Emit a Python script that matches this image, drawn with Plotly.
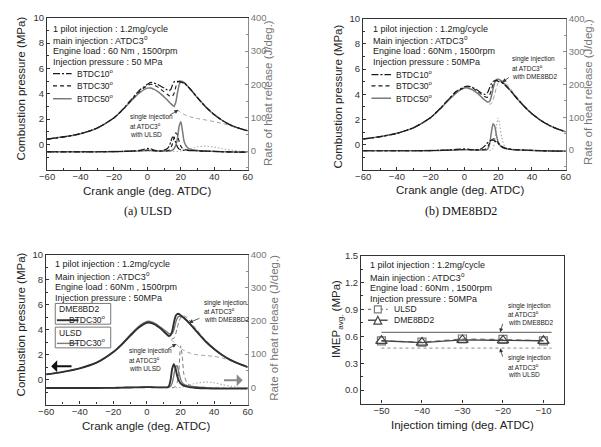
import plotly.graph_objects as go

W, H = 601, 447
FONT = "Liberation Sans, Arial, sans-serif"
SERIF = "Liberation Serif, Times New Roman, serif"

# ---------------- data ----------------
crank_angle = [-60, -50, -40, -30, -20, -15, -10, -5, 0, 2, 4, 6, 8, 10, 12, 13, 14, 15, 16, 17,
               18, 19, 20, 21, 22, 24, 26, 28, 30, 35, 40, 45, 50, 55, 60]
pressure_ticks = [0, 2, 4, 6, 8, 10]
rohr_ticks = [0, 100, 200, 300, 400]
imep_ticks = [0.0, 0.3, 0.6, 0.9, 1.2, 1.5]

# (a) ULSD - combustion pressure (MPa)
pa_btdc10 = [0.42,0.60,0.85,1.30,2.10,2.75,3.50,4.25,4.75,4.90,4.85,4.75,4.60,4.45,4.30,4.25,4.35,4.70,4.95,5.00,
             4.98,4.95,4.92,4.88,4.82,4.60,4.32,4.00,3.68,2.95,2.35,1.88,1.52,1.27,1.08]
pa_btdc30 = [0.42,0.60,0.85,1.30,2.10,2.72,3.45,4.15,4.65,4.75,4.70,4.55,4.35,4.15,3.95,3.85,3.80,3.82,4.05,4.55,
             4.90,5.00,4.98,4.93,4.86,4.62,4.32,4.00,3.68,2.95,2.35,1.88,1.52,1.27,1.08]
pa_btdc50 = [0.42,0.60,0.85,1.30,2.10,2.70,3.40,4.05,4.45,4.45,4.35,4.20,4.00,3.75,3.50,3.35,3.22,3.10,3.02,3.35,
             4.10,4.70,4.98,4.97,4.88,4.62,4.32,4.00,3.68,2.95,2.35,1.88,1.52,1.27,1.08]
pa_single = [0.42,0.60,0.85,1.30,2.10,2.70,3.40,4.05,4.45,4.45,4.35,4.20,4.00,3.75,3.50,3.35,3.22,3.10,2.98,2.86,
             2.74,2.62,2.52,2.44,2.37,2.26,2.17,2.10,2.04,1.93,1.80,1.65,1.47,1.27,1.08]
# (a) ULSD - rate of heat release (J/deg.)
ra_btdc10 = [-2,-2,-2,-2,-1.5,-1,0,2,8,7,3,1,1,3,8,15,28,42,40,25,12,6,4,3,2.5,2,1.5,1,0.5,0,-1,-2,-2.5,-3,-3]
ra_btdc30 = [-2,-2,-2,-2,-1.5,-1,0,1.5,3,3,1.5,0.5,0.5,0.5,1,3,10,22,40,55,48,28,15,8,5,3,2,1.5,1,0,-1,-2,-2.5,-3,-3]
ra_btdc50 = [-2,-2,-2,-2,-1.5,-1,-0.5,0.5,2,2,1,0,0,0,0,0.5,1,3,8,18,40,75,88,60,28,10,5,3,2,0,-1,-2,-2.5,-3,-3]
ra_single = [-2,-2,-2,-2,-1.5,-1,-0.5,0,0.5,0.5,0,-0.5,-1,-1,-1,-1,-1,-1,-1,-1,-1,-0.5,0,1,2,5,8,11,13,15,12,7,3,0,-2]

# (b) DME8BD2 - combustion pressure (MPa)
pb_btdc10 = [0.45,0.63,0.90,1.35,2.15,2.80,3.52,4.22,4.60,4.66,4.60,4.46,4.30,4.12,4.00,4.02,4.20,4.55,4.85,5.02,
             5.08,5.08,5.04,4.99,4.93,4.74,4.47,4.17,3.85,3.10,2.45,1.95,1.55,1.25,1.02]
pb_btdc30 = [0.45,0.63,0.90,1.35,2.15,2.78,3.50,4.18,4.55,4.62,4.55,4.40,4.22,4.00,3.82,3.76,3.78,3.95,4.35,4.80,
             5.05,5.12,5.10,5.05,4.98,4.76,4.48,4.18,3.85,3.10,2.45,1.95,1.55,1.25,1.02]
pb_btdc50 = [0.45,0.63,0.90,1.35,2.15,2.75,3.45,4.10,4.50,4.50,4.40,4.25,4.05,3.80,3.55,3.45,3.38,3.45,3.85,4.45,
             4.95,5.18,5.20,5.15,5.05,4.80,4.50,4.20,3.85,3.10,2.45,1.95,1.55,1.25,1.02]
pb_single = [0.45,0.63,0.90,1.35,2.15,2.75,3.45,4.10,4.50,4.50,4.40,4.25,4.05,3.80,3.55,3.42,3.30,3.22,3.25,3.55,
             4.05,4.55,4.90,5.08,5.12,4.98,4.68,4.33,3.98,3.18,2.50,1.98,1.57,1.26,1.02]
# (b) DME8BD2 - rate of heat release (J/deg.)
rb_btdc10 = [-2,-2,-2,-2,-1.5,-1,0,2,4,3,1.5,1,1,4,12,18,24,28,30,30,28,24,20,15,11,6,3,2,1,0,-1,-2,-2.5,-3,-3]
rb_btdc30 = [-2,-2,-2,-2,-1.5,-1,0,1,2,2,1,0.5,0.5,1,2,5,12,22,30,34,33,28,22,16,12,6,3,2,1,0,-1,-2,-2.5,-3,-3]
rb_btdc50 = [-2,-2,-2,-2,-1.5,-1,-0.5,0,1,1,0.5,0,0,0,0,1,5,20,55,80,72,45,25,15,10,5,3,2,1,0,-1,-2,-2.5,-3,-3]
rb_single = [-2,-2,-2,-2,-1.5,-1,-0.5,0,0.5,0.5,0,-0.5,-1,-1,-1,-1,-1,-1,0,5,30,75,98,75,40,10,4,2,1,0,-1,-2,-2.5,-3,-3]

# (c) comparison BTDC30 - combustion pressure (MPa)
pc_dme = [0.42,0.62,0.90,1.35,2.20,2.80,3.50,4.15,4.55,4.55,4.45,4.30,4.10,3.85,3.60,3.50,3.55,3.85,4.50,5.05,
          5.25,5.25,5.15,5.05,4.95,4.70,4.40,4.10,3.80,3.05,2.45,1.95,1.55,1.25,1.00]
pc_ulsd = [0.42,0.62,0.90,1.35,2.22,2.85,3.58,4.25,4.65,4.65,4.55,4.40,4.20,4.00,3.80,3.70,3.65,3.70,3.95,4.50,
           4.90,5.05,5.05,5.00,4.90,4.66,4.38,4.08,3.78,3.05,2.45,1.95,1.55,1.25,1.00]
pc_single_dme = [0.42,0.62,0.90,1.35,2.20,2.80,3.50,4.15,4.55,4.55,4.45,4.30,4.10,3.85,3.55,3.42,3.32,3.26,3.30,3.60,
                 4.10,4.60,4.95,5.10,5.10,4.95,4.62,4.27,3.92,3.12,2.50,1.98,1.57,1.26,1.00]
pc_single_ulsd = [0.42,0.62,0.90,1.35,2.20,2.80,3.50,4.15,4.55,4.55,4.45,4.30,4.10,3.85,3.55,3.40,3.25,3.12,3.00,2.88,
                  2.76,2.64,2.52,2.42,2.34,2.20,2.10,2.03,1.98,1.92,1.86,1.72,1.50,1.26,1.00]
# (c) rate of heat release (J/deg.)
rc_dme = [-2,-2,-2,-2,-1.5,-1,-0.5,0,0.5,0.5,0,0,0,0,0,3,20,55,70,58,35,20,12,8,5,2,0,-1,-2,-3,-4,-4,-4,-4,-4]
rc_ulsd = [-2,-2,-2,-2,-1.5,-1,-0.5,0,1,1,0.5,0,0,0,0,1,3,12,35,60,65,45,25,14,9,5,3,2,1,-1,-2,-3,-3,-3,-3]
rc_single_dme = [-2,-2,-2,-2,-1.5,-1,-0.5,0,0.5,0.5,0,-0.5,-1,-1,-1,-1,-1,-1,0,3,15,45,125,95,40,12,5,2,1,0,-1,-2,-2.5,-3,-3]
rc_single_ulsd = [-2,-2,-2,-2,-1.5,-1,-0.5,0,0.5,0.5,0,-0.5,-1,-1,-1,-1,-1,-1,-1,-1,-1,-0.5,0,1,2,5,8,11,13,16,14,8,3,0,-2]

# (d) IMEP vs injection timing
injection_timing = [-50, -40, -30, -20, -10]
imep_ulsd = [0.55, 0.535, 0.57, 0.565, 0.55]
imep_dme = [0.55, 0.53, 0.56, 0.555, 0.55]
single_range = [-50, -8]
imep_single_dme = [0.645, 0.645]
imep_single_ulsd = [0.468, 0.468]

# ---------------- styles ----------------
BLACK = "#1a1a1a"
GRAY = "#7a7a7a"
LGRAY = "#a0a0a0"
AX_GRAY = "#8a8a8a"
DASHDOT = "7px,2px,2px,2px"
DASH = "4px,3px"
DOT = "1.5px,2px"

fig = go.Figure()


def line(x, y, xa, ya, color, width=1.2, dash="solid"):
    fig.add_trace(go.Scatter(x=x, y=y, xaxis=xa, yaxis=ya, mode="lines",
                             line=dict(color=color, width=width, dash=dash, shape="spline", smoothing=0.6),
                             showlegend=False, hoverinfo="skip"))


# (a)
for ya, series in (("y2", [ra_single, ra_btdc50, ra_btdc30, ra_btdc10]), ("y", [pa_single, pa_btdc50, pa_btdc30, pa_btdc10])):
    line(crank_angle, series[0], "x", ya, LGRAY, 1.0, DOT if ya == "y2" else DASH)
    line(crank_angle, series[1], "x", ya, GRAY, 1.5)
    line(crank_angle, series[2], "x", ya, BLACK, 1.1, DASH)
    line(crank_angle, series[3], "x", ya, BLACK, 1.2, DASHDOT)
# (b)
for ya, series in (("y4", [rb_single, rb_btdc50, rb_btdc30, rb_btdc10]), ("y3", [pb_single, pb_btdc50, pb_btdc30, pb_btdc10])):
    line(crank_angle, series[0], "x2", ya, LGRAY, 1.0, DOT if ya == "y4" else DASH)
    line(crank_angle, series[1], "x2", ya, GRAY, 1.5)
    line(crank_angle, series[2], "x2", ya, BLACK, 1.1, DASH)
    line(crank_angle, series[3], "x2", ya, BLACK, 1.2, DASHDOT)
# (c)
line(crank_angle, rc_single_ulsd, "x3", "y6", LGRAY, 1.0, DOT)
line(crank_angle, rc_single_dme, "x3", "y6", GRAY, 1.0, DASH)
line(crank_angle, rc_ulsd, "x3", "y6", GRAY, 1.4)
line(crank_angle, rc_dme, "x3", "y6", "#303030", 1.9)
line(crank_angle, pc_single_ulsd, "x3", "y5", LGRAY, 1.0, DASH)
line(crank_angle, pc_single_dme, "x3", "y5", GRAY, 1.0, DASH)
line(crank_angle, pc_ulsd, "x3", "y5", GRAY, 1.4)
line(crank_angle, pc_dme, "x3", "y5", "#303030", 1.9)
# (d)
fig.add_trace(go.Scatter(x=single_range, y=imep_single_dme, xaxis="x4", yaxis="y7", mode="lines",
                         line=dict(color=GRAY, width=1.2), showlegend=False, hoverinfo="skip"))
fig.add_trace(go.Scatter(x=single_range, y=imep_single_ulsd, xaxis="x4", yaxis="y7", mode="lines",
                         line=dict(color=LGRAY, width=1.2, dash="3px,3px"), showlegend=False, hoverinfo="skip"))
fig.add_trace(go.Scatter(x=injection_timing, y=imep_ulsd, xaxis="x4", yaxis="y7", mode="lines+markers",
                         line=dict(color=GRAY, width=1.2, dash="5px,4px"),
                         marker=dict(symbol="square-open", size=8, color=GRAY, line=dict(width=1.2)),
                         showlegend=False, hoverinfo="skip"))
fig.add_trace(go.Scatter(x=injection_timing, y=imep_dme, xaxis="x4", yaxis="y7", mode="lines+markers",
                         line=dict(color="#444", width=1.4),
                         marker=dict(symbol="triangle-up-open", size=10, color="#444", line=dict(width=1.2)),
                         showlegend=False, hoverinfo="skip"))

# ---------------- axes ----------------
TICK = 9.5
tickf = dict(family=FONT, size=TICK, color="#333")
tickg = dict(family=FONT, size=TICK, color="#777")


def xax(domain, anchor, rng, dtick, minor):
    d = dict(domain=domain, anchor=anchor, range=rng, dtick=dtick,
             showline=True, linecolor="#333", linewidth=1.3, mirror=True, ticks="inside", ticklen=3,
             tickcolor="#333", tickfont=tickf, showgrid=False, zeroline=False, ticklabelstandoff=-2)
    if minor:
        d["minor"] = dict(ticks="inside", ticklen=2, dtick=minor, tickcolor="#333")
    return d


def yax(domain, anchor, rng, vals, minor, fmt=None):
    d = dict(domain=domain, anchor=anchor, range=rng, tickmode="array", tickvals=vals, showline=True,
             linecolor="#333", linewidth=1.3, ticks="inside", ticklen=3, tickcolor="#333",
             tickfont=tickf, showgrid=False, zeroline=False,
             minor=dict(ticks="inside", ticklen=2, dtick=minor, tick0=0, tickcolor="#333"))
    if fmt:
        d["tickformat"] = fmt
    return d


def yright(overlay, anchor, rng):
    return dict(overlaying=overlay, anchor=anchor, side="right", range=rng, tickmode="array",
                tickvals=rohr_ticks, showline=True, linecolor=AX_GRAY, linewidth=1.3, ticks="inside",
                ticklen=3, tickcolor=AX_GRAY, tickfont=tickg, showgrid=False, zeroline=False,
                minor=dict(ticks="inside", ticklen=2, dtick=50, tick0=0, tickcolor=AX_GRAY))


dxa = [40 / W, 245 / W]
dxb = [363 / W, 570 / W]
dxc = [39 / W, 245 / W]
dxd = [361 / W, 568 / W]
dya = [1 - 166 / H, 1 - 12 / H]
dyb = [1 - 166 / H, 1 - 13 / H]
dyc = [1 - 404 / H, 1 - 252 / H]
dyd = [1 - 403 / H, 1 - 253 / H]

layout = dict(
    width=W, height=H, margin=dict(l=0, r=0, t=0, b=0),
    paper_bgcolor="white", plot_bgcolor="white", showlegend=False,
    font=dict(family=FONT, color="#222"),
    xaxis=xax(dxa, "y", [-60, 60], 20, 10),
    yaxis=yax(dya, "x", [-2, 10], pressure_ticks, 1),
    yaxis2=yright("y", "x", [-56, 400]),
    xaxis2=xax(dxb, "y3", [-60, 60], 20, 10),
    yaxis3=yax(dyb, "x2", [-2, 10], pressure_ticks, 1),
    yaxis4=yright("y3", "x2", [-60, 400]),
    xaxis3=xax(dxc, "y5", [-60, 60], 20, 10),
    yaxis5=yax(dyc, "x3", [-2, 10], pressure_ticks, 1),
    yaxis6=yright("y5", "x3", [-52, 400]),
    xaxis4=xax(dxd, "y7", [-55, -5], 10, None),
    yaxis7=yax(dyd, "x4", [-0.15, 1.5], imep_ticks, 0.15, ".1f"),
)
layout["yaxis7"]["mirror"] = True
fig.update_layout(**layout)

# ---------------- annotations & legend glyphs ----------------
ann = []
shapes = []


def px(x, y):
    return x / W, 1 - y / H


def text(x, y, s, size=9, xanchor="left", color="#222", family=FONT, angle=0):
    X, Y = px(x, y)
    ann.append(dict(x=X, y=Y, xref="paper", yref="paper", text=s, showarrow=False,
                    xanchor=xanchor, yanchor="middle", textangle=angle,
                    font=dict(family=family, size=size, color=color)))


def seg(x0, y0, x1, y1, color, width=1.2, dash="solid"):
    X0, Y0 = px(x0, y0)
    X1, Y1 = px(x1, y1)
    shapes.append(dict(type="line", xref="paper", yref="paper", x0=X0, y0=Y0, x1=X1, y1=Y1,
                       line=dict(color=color, width=width, dash=dash)))


def rect(x0, y0, x1, y1, color, fill="rgba(0,0,0,0)", width=1):
    X0, Y0 = px(x0, y0)
    X1, Y1 = px(x1, y1)
    shapes.append(dict(type="rect", xref="paper", yref="paper", x0=X0, y0=Y0, x1=X1, y1=Y1,
                       line=dict(color=color, width=width), fillcolor=fill))


def pointer(xa, ya, x, y, ax, ay, color="#333", head=2, width=0.8, size=1):
    ann.append(dict(x=x, y=y, xref=xa, yref=ya, ax=ax, ay=ay, text="", showarrow=True,
                    arrowhead=head, arrowsize=size, arrowwidth=width, arrowcolor=color))


SUP = "<sup>o</sup>"
XT = 11.5   # x-axis title size
YT = 11.5   # y-axis title size
SM = 6.5    # small note size
LG = 8.5    # legend size

# panel (a)
text(44, 23, "1 pilot injection : 1.2mg/cycle")
text(44, 34.5, "main injection : ATDC3" + SUP)
text(44, 46, "Engine load : 60 Nm , 1500rpm")
text(44, 57, "Injection pressure : 50 MPa")
seg(46, 68.5, 65, 68.5, BLACK, 1.3, DASHDOT)
seg(46, 81, 65, 81, BLACK, 1.2, DASH)
seg(46, 94, 65, 94, GRAY, 1.5)
text(68, 68.5, "BTDC10" + SUP, LG)
text(68, 81, "BTDC30" + SUP, LG)
text(68, 94, "BTDC50" + SUP, LG)
text(123, 113, "single injection", SM)
text(123, 121.5, "at ATDC3" + SUP, SM)
text(123, 130, "with ULSD", SM)
pointer("x", "y", 18.5, 2.72, -10, 6)
text(142.5, 188, "Crank angle (deg. ATDC)", XT, "center")
text(13, 84, "Combustion pressure (MPa)", YT, "center", angle=-90)
text(266, 88, "Rate of heat release (J/deg.)", YT, "center", color="#777", angle=-90)
text(143, 208, "(a) ULSD", 12, "center", family=SERIF, color="#111")

# panel (b)
text(371.5, 23, "1 pilot injection : 1.2mg/cycle")
text(371.5, 34.5, "Main injection : ATDC3" + SUP)
text(371.5, 46, "Engine load : 60Nm , 1500rpm")
text(371.5, 57, "Injection pressure : 50MPa")
seg(371.5, 69.5, 391.5, 69.5, BLACK, 1.3, DASHDOT)
seg(371.5, 81, 391.5, 81, BLACK, 1.2, DASH)
seg(371.5, 93.5, 391.5, 93.5, GRAY, 1.5)
text(395, 69.5, "BTDC10" + SUP, LG)
text(395, 81, "BTDC30" + SUP, LG)
text(395, 93.5, "BTDC50" + SUP, LG)
text(513, 54, "single injection", SM)
text(513, 62.5, "at ATDC3" + SUP, SM)
text(513, 71, "with DME8BD2", SM)
pointer("x2", "y3", 22.5, 4.95, 8, -6)
text(462, 187, "Crank angle (deg. ATDC)", XT, "center")
text(337.5, 91.5, "Combustion pressure (MPa)", YT, "center", angle=-90)
text(593, 87, "Rate of heat release (J/deg.)", YT, "center", color="#777", angle=-90)
text(463, 208, "(b) DME8BD2", 12, "center", family=SERIF, color="#111")

# panel (c)
text(46.5, 262, "1 pilot injection : 1.2mg/cycle")
text(46.5, 273.5, "Main injection : ATDC3" + SUP)
text(46.5, 284.5, "Engine load : 60Nm , 1500rpm")
text(46.5, 296, "Injection pressure : 50MPa")
rect(48.3, 301.5, 105, 322.5, "#777")
rect(48.3, 325.5, 105, 346.5, "#777")
text(50, 307, "DME8BD2", LG)
seg(50, 318.5, 72, 318.5, "#303030", 1.9)
text(102, 317.5, "BTDC30" + SUP, LG, xanchor="right")
text(50, 331, "ULSD", LG)
seg(50, 342, 72, 342, GRAY, 1.4)
text(102, 341.5, "BTDC30" + SUP, LG, xanchor="right")
text(198, 301, "single injection", SM)
text(198, 309.5, "at ATDC3" + SUP, SM)
text(198, 318, "with DME8BD2", SM)
pointer("x3", "y5", 25, 4.55, 12, -5)
text(122, 350, "single injection", SM)
text(122, 358.5, "at ATDC3" + SUP, SM)
text(122, 367, "with ULSD", SM)
pointer("x3", "y5", 17.5, 2.85, -10, 6)
ann.append(dict(x=-57, y=1.07, ax=-44, ay=1.07, xref="x3", yref="y5", axref="x3", ayref="y5",
                text="", showarrow=True, arrowhead=1, arrowsize=1, arrowwidth=2, arrowcolor="#111"))
ann.append(dict(x=57, y=-0.05, ax=45, ay=-0.05, xref="x3", yref="y5", axref="x3", ayref="y5",
                text="", showarrow=True, arrowhead=1, arrowsize=1, arrowwidth=2, arrowcolor="#888"))
text(141.5, 426, "Crank angle (deg. ATDC)", XT, "center")
text(13, 323, "Combustion pressure (MPa)", YT, "center", angle=-90)
text(272, 326, "Rate of heat release (J/deg.)", YT, "center", color="#777", angle=-90)

# panel (d)
text(368, 263, "1 pilot injection : 1.2mg/cycle")
text(368, 274.5, "Main injection : ATDC3" + SUP)
text(368, 285.5, "Engine load : 60Nm , 1500rpm")
text(368, 296.5, "Injection pressure : 50MPa")
seg(368, 307.5, 388, 307.5, GRAY, 1.2, "3px,3px")
seg(368, 318.5, 388, 318.5, "#444", 1.4)
rect(374.5, 304, 381.5, 311, GRAY, "white", 1.2)
tx = [px(374, 322.5), px(382, 322.5), px(378, 314.5)]
shapes.append(dict(type="path", xref="paper", yref="paper",
                   path="M {} {} L {} {} L {} {} Z".format(tx[0][0], tx[0][1], tx[1][0], tx[1][1], tx[2][0], tx[2][1]),
                   line=dict(color="#444", width=1.2), fillcolor="white"))
text(392, 307.5, "ULSD", LG)
text(392, 318.5, "DME8BD2", LG)
text(509, 304, "single injection", SM)
text(509, 312.5, "at ATDC3" + SUP, SM)
text(509, 321, "with DME8BD2", SM)
pointer("x4", "y7", -20.7, 0.645, 3, -10)
text(509, 357, "single injection", SM)
text(509, 365.5, "at ATDC3" + SUP, SM)
text(509, 374, "with ULSD", SM)
pointer("x4", "y7", -20.7, 0.468, 3, 10)
text(465, 425, "Injection timing (deg. ATDC)", XT, "center")
text(336.5, 317, "IMEP<sub>avg.</sub> (MPa)", YT, "center", angle=-90)

fig.update_layout(annotations=ann, shapes=shapes)
fig.write_html("out.html")
